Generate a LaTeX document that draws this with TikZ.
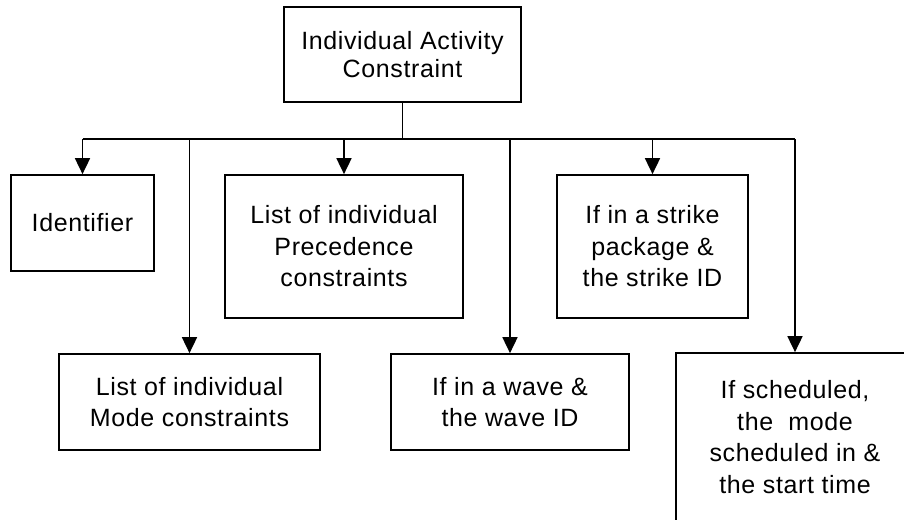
\documentclass[tikz,border=0pt]{standalone}
\usepackage{fontspec}
\setmainfont[LetterSpace=2.5]{Liberation Sans}
\usetikzlibrary{arrows.meta}

\tikzset{
  box/.style={draw, line width=1.7pt, align=center, inner sep=0pt,
    font=\fontsize{25}{31.5}\selectfont},
  feed/.style={line width=1.7pt},
  drop/.style={line width=1.7pt, -{Triangle[length=16pt,width=15pt]}}
}

\begin{document}
\begin{tikzpicture}[x=1pt,y=-1pt]
  \clip (0,0) rectangle (904,519);
  \fill[white] (0,0) rectangle (904,519);

  % root
  \node[box, minimum width=237pt, minimum height=95pt,
        font=\fontsize{25}{28}\selectfont] (root) at (402.5,54.5)
        {Individual Activity\\Constraint};

  % upper row
  \node[box, minimum width=143pt, minimum height=96pt] (ident) at (82.5,223) {Identifier};
  \node[box, minimum width=238pt, minimum height=143pt] (prec) at (344,246.5)
        {List of individual\\Precedence\\constraints};
  \node[box, minimum width=191pt, minimum height=143pt] (strike) at (652.5,246.5)
        {If in a strike\\package \&\\the strike ID};

  % lower row
  \node[box, minimum width=261pt, minimum height=96pt] (mode) at (189.5,402)
        {List of individual\\Mode constraints};
  \node[box, minimum width=238pt, minimum height=96pt] (wave) at (510,402)
        {If in a wave \&\\the wave ID};
  \node[box, minimum width=238pt, minimum height=168pt] (sched) at (795,437)
        {If scheduled,\\the\ \ mode\\scheduled in \&\\the start time};

  % distribution bus
  \coordinate (bus) at (0,139);
  \coordinate (busL) at (ident.north |- bus);
  \coordinate (busR) at (sched.north |- bus);
  \draw[feed] (root.south) -- (root.south |- bus);
  \draw[feed] (busL) -- (busR);

  % branches
  \draw[drop] (busL) -- (ident.north);
  \draw[drop] (mode.north |- bus) -- (mode.north);
  \draw[drop] (prec.north |- bus) -- (prec.north);
  \draw[drop] (wave.north |- bus) -- (wave.north);
  \draw[drop] (strike.north |- bus) -- (strike.north);
  \draw[drop] (busR) -- (sched.north);
\end{tikzpicture}
\end{document}
